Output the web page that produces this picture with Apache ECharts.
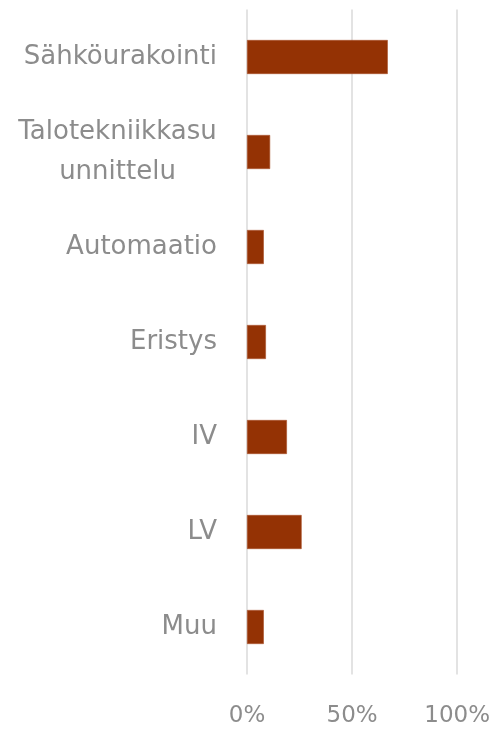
<!DOCTYPE html>
<html>
<head>
<meta charset="utf-8">
<script src="https://cdn.jsdelivr.net/npm/echarts@6/dist/echarts.min.js"></script>
<style>
  html, body { margin: 0; padding: 0; background: #fff; }
  #chart { width: 493px; height: 729px; }
</style>
</head>
<body>
<div id="chart"></div>
<script>
const categories = ['Sähköurakointi', 'Talotekniikkasu\nunnittelu', 'Automaatio', 'Eristys', 'IV', 'LV', 'Muu'];
const values = [67, 11, 8, 9, 19, 26, 8];
const xTicks = [0, 50, 100];

const chart = echarts.init(document.getElementById('chart'));

const labelColor = '#8c8c8c';
const font = '"DejaVu Sans", sans-serif';
const catSize = 26;
const tickSize = 23;

// widest line of a label, so wrapped lines can be centred inside it
const ctx = document.createElement('canvas').getContext('2d');
ctx.font = catSize + 'px ' + font;
function blockWidth(value) {
  return Math.max(...value.split('\n').map(s => ctx.measureText(s).width));
}

let option = {
  animation: false,
  grid: {
    left: 247,
    right: 34,
    top: 9.5,
    bottom: 54.5,
  },
  xAxis: {
    type: 'value',
    min: xTicks[0],
    max: xTicks[xTicks.length - 1],
    interval: 50,
    axisLine: { show: false },
    axisTick: { show: false },
    splitLine: {
      lineStyle: { color: '#e3e3e3', width: 2 }
    },
    axisLabel: {
      margin: 30,
      color: labelColor,
      fontFamily: font,
      fontSize: tickSize,
      formatter: v => v + '%',
    },
  },
  yAxis: {
    type: 'category',
    inverse: true,
    data: categories,
    axisLine: { show: false },
    axisTick: { show: false },
    axisLabel: {
      margin: 30,
      color: labelColor,
      fontFamily: font,
      fontSize: catSize,
      lineHeight: 40,
      formatter: function (value) {
        if (value.indexOf('\n') < 0) return value;
        return value.split('\n').map(s => '{w|' + s + '}').join('\n');
      },
      rich: {
        w: {
          align: 'center',
          width: Math.ceil(blockWidth(categories[1])),
          color: labelColor,
          fontFamily: font,
          fontSize: catSize,
          lineHeight: 40,
        }
      }
    },
  },
  series: [{
    type: 'bar',
    data: values,
    barWidth: 34,
    itemStyle: {
      color: '#943204',
      borderColor: '#a9502a',
      borderWidth: 0.6,
    },
  }]
};
chart.setOption(option);
</script>
</body>
</html>
